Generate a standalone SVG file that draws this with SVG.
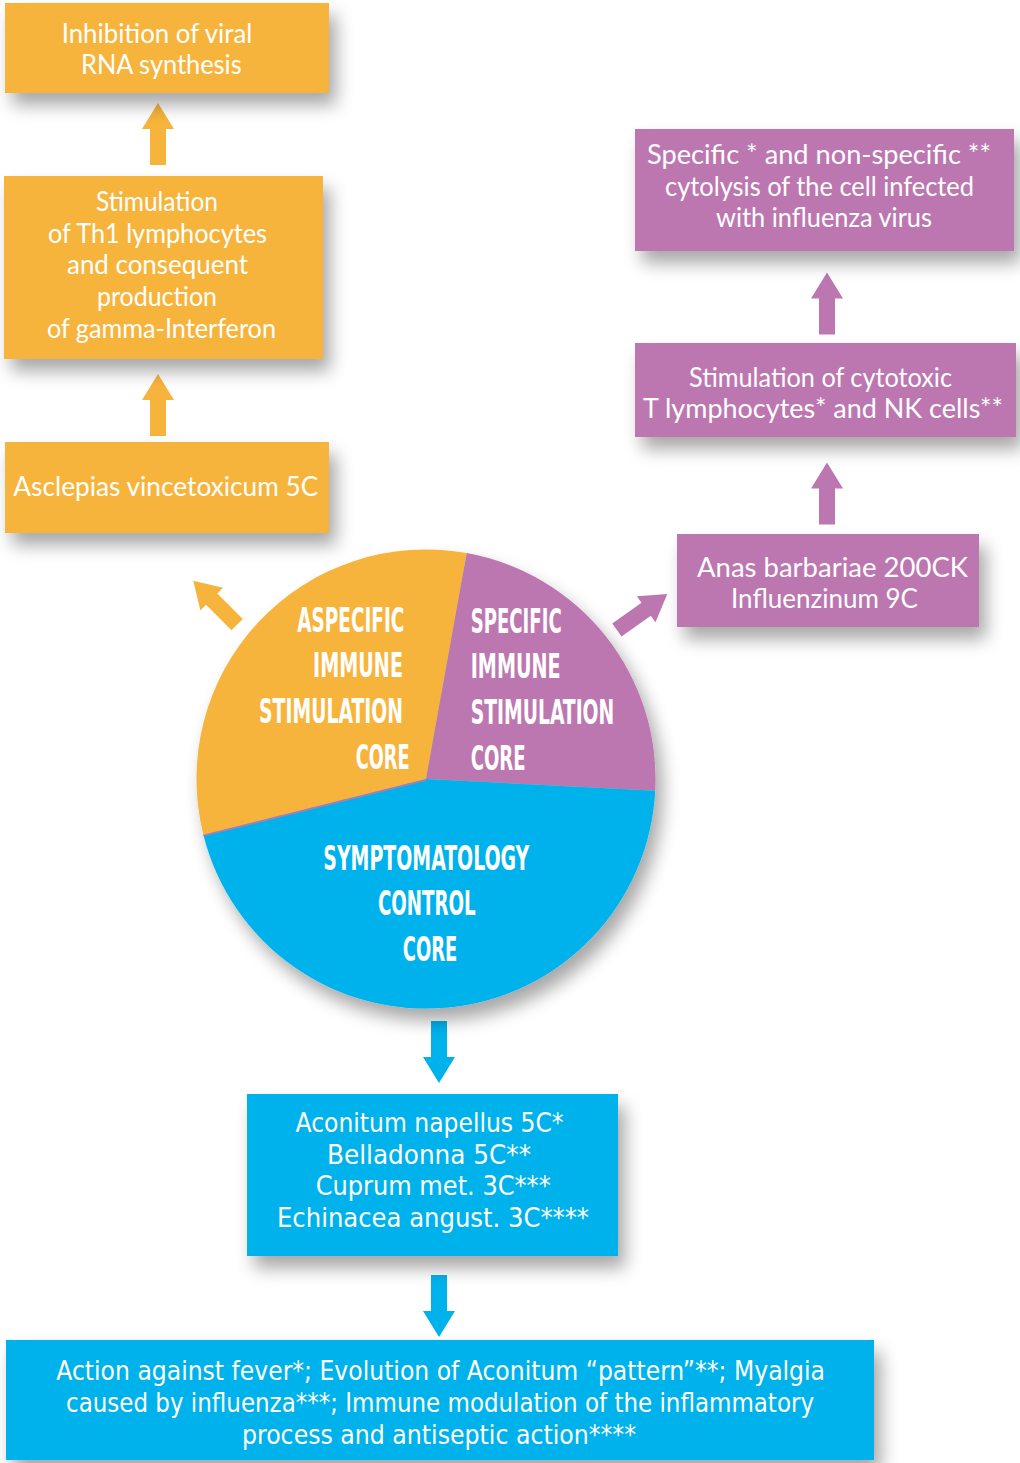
<svg xmlns="http://www.w3.org/2000/svg" width="1020" height="1463" viewBox="0 0 1020 1463">
<style>
.or{fill:#F7B43C}
.pu{fill:#BC77B0}
.bl{fill:#00B2EB}
.t{font-family:Lato,"Open Sans","Liberation Sans",sans-serif;font-weight:400;font-size:26px;fill:#fff}
.tc{font-family:"Liberation Sans Narrow","DejaVu Sans Condensed","Liberation Sans",sans-serif;font-size:27px;fill:#fff}
.c{font-family:"Liberation Sans Narrow","DejaVu Sans Condensed","Liberation Sans",sans-serif;font-weight:bold;font-size:33px;fill:#fff}
</style>
<defs>
<filter id="sh" x="-20%" y="-20%" width="150%" height="170%">
<feGaussianBlur in="SourceAlpha" stdDeviation="9"/>
<feOffset dx="7" dy="12" result="b"/>
<feComponentTransfer><feFuncA type="linear" slope="0.35"/></feComponentTransfer>
<feMerge><feMergeNode/><feMergeNode in="SourceGraphic"/></feMerge>
</filter>
<polygon id="arr" points="0,0 16,26 8,26 8,62 -8,62 -8,26 -16,26"/>
</defs>
<rect width="1020" height="1463" fill="#fff"/>

<g id="connectors">
<use href="#arr" class="or" transform="translate(158,103)"/>
<use href="#arr" class="or" transform="translate(158,374)"/>
<use href="#arr" class="or" transform="translate(193.3,580.7) rotate(-45)"/>
<use href="#arr" class="pu" transform="translate(827,272.5)"/>
<use href="#arr" class="pu" transform="translate(827,462.5)"/>
<use href="#arr" class="pu" transform="translate(667.3,594) rotate(54.4)"/>
<use href="#arr" class="bl" transform="translate(439,1083) rotate(180)"/>
<use href="#arr" class="bl" transform="translate(439,1337) rotate(180)"/>
</g>

<g id="node-inhibition">
<rect class="or" x="5" y="3" width="324" height="90" filter="url(#sh)"/>
<text class="t" x="61.7" y="43" textLength="190.6" lengthAdjust="spacingAndGlyphs">Inhibition of viral</text>
<text class="t" x="81" y="74" textLength="160.7" lengthAdjust="spacingAndGlyphs">RNA synthesis</text>
</g>

<g id="node-th1">
<rect class="or" x="4" y="176" width="319" height="183" filter="url(#sh)"/>
<text class="t" x="96" y="211" textLength="122" lengthAdjust="spacingAndGlyphs">Stimulation</text>
<text class="t" x="48" y="243" textLength="219" lengthAdjust="spacingAndGlyphs">of Th1 lymphocytes</text>
<text class="t" x="67" y="274" textLength="181" lengthAdjust="spacingAndGlyphs">and consequent</text>
<text class="t" x="97" y="306" textLength="120" lengthAdjust="spacingAndGlyphs">production</text>
<text class="t" x="47" y="338" textLength="229" lengthAdjust="spacingAndGlyphs">of gamma-Interferon</text>
</g>

<g id="node-asclepias">
<rect class="or" x="5" y="442" width="324" height="91" filter="url(#sh)"/>
<text class="t" x="13.3" y="496" textLength="305" lengthAdjust="spacingAndGlyphs">Asclepias vincetoxicum 5C</text>
</g>

<g id="node-cytolysis">
<rect class="pu" x="635" y="129" width="379" height="122" filter="url(#sh)"/>
<text class="t" x="647" y="164" textLength="344" lengthAdjust="spacingAndGlyphs">Specific * and non-specific **</text>
<text class="t" x="665" y="196" textLength="309" lengthAdjust="spacingAndGlyphs">cytolysis of the cell infected</text>
<text class="t" x="716" y="227" textLength="216" lengthAdjust="spacingAndGlyphs">with influenza virus</text>
</g>

<g id="node-cytotoxic">
<rect class="pu" x="635" y="343" width="381" height="94" filter="url(#sh)"/>
<text class="t" x="689" y="387" textLength="263" lengthAdjust="spacingAndGlyphs">Stimulation of cytotoxic</text>
<text class="t" x="643" y="418" textLength="360" lengthAdjust="spacingAndGlyphs">T lymphocytes* and NK cells**</text>
</g>

<g id="node-anas">
<rect class="pu" x="677" y="534" width="302" height="93" filter="url(#sh)"/>
<text class="t" x="697" y="577" textLength="271" lengthAdjust="spacingAndGlyphs">Anas barbariae 200CK</text>
<text class="t" x="731" y="608" textLength="187" lengthAdjust="spacingAndGlyphs">Influenzinum 9C</text>
</g>

<g id="node-circle">
<g filter="url(#sh)">
<path class="or" d="M426,779 L466.7,553.1 A229.5,229.5 0 0 0 203.4,835 Z"/>
<path class="pu" d="M426,779 L466.7,553.1 A229.5,229.5 0 0 1 655.2,790.7 Z"/>
<path class="bl" d="M426,779 L655.2,790.7 A229.5,229.5 0 0 1 203.4,835 Z"/>
</g>
<line x1="426" y1="780" x2="203.4" y2="835.5" stroke="#BC77B0" stroke-width="1.5"/>
<text class="c" x="297.3" y="632" textLength="107" lengthAdjust="spacingAndGlyphs">ASPECIFIC</text>
<text class="c" x="313" y="677" textLength="90" lengthAdjust="spacingAndGlyphs">IMMUNE</text>
<text class="c" x="259" y="723" textLength="144" lengthAdjust="spacingAndGlyphs">STIMULATION</text>
<text class="c" x="355.7" y="768.5" textLength="54" lengthAdjust="spacingAndGlyphs">CORE</text>
<text class="c" x="470.7" y="633" textLength="91" lengthAdjust="spacingAndGlyphs">SPECIFIC</text>
<text class="c" x="470.7" y="678" textLength="90" lengthAdjust="spacingAndGlyphs">IMMUNE</text>
<text class="c" x="470.7" y="724" textLength="143.6" lengthAdjust="spacingAndGlyphs">STIMULATION</text>
<text class="c" x="470.7" y="770" textLength="55" lengthAdjust="spacingAndGlyphs">CORE</text>
<text class="c" x="323.3" y="869.5" textLength="206" lengthAdjust="spacingAndGlyphs">SYMPTOMATOLOGY</text>
<text class="c" x="378" y="915" textLength="97.7" lengthAdjust="spacingAndGlyphs">CONTROL</text>
<text class="c" x="402.7" y="961" textLength="54.6" lengthAdjust="spacingAndGlyphs">CORE</text>
</g>

<g id="node-remedies">
<rect class="bl" x="247" y="1094" width="371" height="162" filter="url(#sh)"/>
<text class="tc" x="295.6" y="1132" textLength="268" lengthAdjust="spacingAndGlyphs">Aconitum napellus 5C*</text>
<text class="tc" x="327" y="1163.5" textLength="204" lengthAdjust="spacingAndGlyphs">Belladonna 5C**</text>
<text class="tc" x="315.7" y="1194.5" textLength="235" lengthAdjust="spacingAndGlyphs">Cuprum met. 3C***</text>
<text class="tc" x="277" y="1226.5" textLength="312" lengthAdjust="spacingAndGlyphs">Echinacea angust. 3C****</text>
</g>

<g id="node-actions">
<rect class="bl" x="6" y="1340" width="868" height="120" filter="url(#sh)"/>
<text class="tc" x="56.3" y="1380" textLength="768.7" lengthAdjust="spacingAndGlyphs">Action against fever*; Evolution of  Aconitum “pattern”**; Myalgia</text>
<text class="tc" x="66" y="1412" textLength="748" lengthAdjust="spacingAndGlyphs">caused by influenza***; Immune modulation of the inflammatory</text>
<text class="tc" x="242" y="1443.5" textLength="394" lengthAdjust="spacingAndGlyphs">process and antiseptic action****</text>
</g>
</svg>
